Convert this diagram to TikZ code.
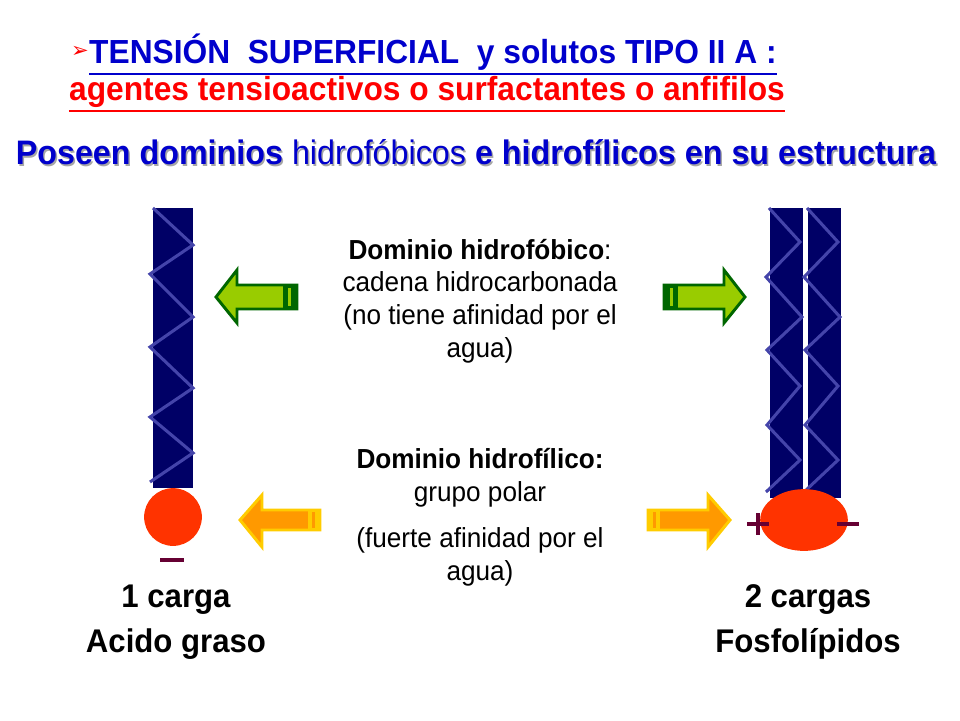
\documentclass[tikz,border=0pt]{standalone}
\usepackage{fontspec}
\usetikzlibrary{shapes.geometric}
\setmainfont{Liberation Sans}
\newfontfamily\nar[FakeStretch=0.95]{Liberation Sans}
\newfontfamily\djfont{DejaVu Sans}
\definecolor{chain}{HTML}{000066}
\definecolor{zig}{HTML}{4444AA}
\definecolor{head}{HTML}{FF3300}
\definecolor{mar}{HTML}{660033}
\definecolor{tb}{HTML}{0000CC}
\definecolor{lg}{HTML}{99CC00}
\definecolor{dg}{HTML}{006600}
\definecolor{og}{HTML}{FF9900}
\definecolor{yb}{HTML}{FFCC00}
\begin{document}
\begin{tikzpicture}[x=0.03cm,y=-0.03cm,
  zz/.style={zig,line width=2.6pt},
  chainbox/.style={fill=chain},
  body/.style={font=\fontsize{23.5}{28}\selectfont\nar,align=center},
  lbl/.style={font=\fontsize{28}{32}\selectfont\nar\bfseries},
  sgn/.style={mar,line width=3.5pt}]
\useasboundingbox (0,0) rectangle (960,720);
\fill[white] (0,0) rectangle (960,720);
% titles
\node[anchor=west,inner sep=0,text=tb,font=\fontsize{28.5}{30}\selectfont\nar\bfseries] (t1) at (89,52) {TENSIÓN\ \ SUPERFICIAL\ \ y solutos TIPO II A :};
\node[anchor=east,inner sep=0,text=red,font=\djfont\fontsize{18}{18}\selectfont] (arr) at (t1.west) {➢};
\draw[tb,line width=1.8pt] ([yshift=-3pt]t1.south west) -- ([yshift=-3pt]t1.south east);
\node[inner sep=0,text=red,font=\fontsize{28.5}{30}\selectfont\nar\bfseries] (t2) at (427,92) {agentes tensioactivos o surfactantes o anfifilos};
\draw[red,line width=1.8pt] ([yshift=-3pt]t2.south west) -- ([yshift=-3pt]t2.south east);
\node[inner sep=0,text=gray!70,font=\fontsize{29}{30}\selectfont\nar] at (477.5,154.5) {\textbf{Poseen dominios} hidrofóbicos \textbf{e hidrofílicos en su estructura}};
\node[inner sep=0,text=tb,font=\fontsize{29}{30}\selectfont\nar] (t3) at (476,152) {\textbf{Poseen dominios} hidrofóbicos \textbf{e hidrofílicos en su estructura}};
% left molecule
\fill[chainbox] (153,208) rectangle (193,488);
\draw[zz] (153,208)--(193,245)--(150,274)--(193,317)--(150,347)--(193,388)--(150,417)--(193,453)--(150,482);
\node[circle,fill=head,minimum size=58*0.85pt,inner sep=0] (h1) at (173,517) {};
\coordinate (m1) at (172,560);
\draw[sgn] ([xshift=-10pt]m1) -- ([xshift=10pt]m1);
% right molecule
\fill[chainbox] (770,208) rectangle (803,498);
\fill[chainbox] (808,208) rectangle (841,498);
\foreach \dx in {0,38}{
\draw[zz,xshift=\dx*0.03cm] (769,208)--(800,242)--(766,277)--(802,317)--(767,350)--(800,386)--(767,425)--(800,460)--(766,492);}
\node[ellipse,fill=head,minimum width=88*0.85pt,minimum height=62*0.85pt,inner sep=0] (h2) at (804,520) {};
\coordinate (p2) at (758,524);
\coordinate (m2) at (848,524);
\draw[sgn] ([xshift=-9pt]p2) -- ([xshift=9pt]p2) ([yshift=-9pt]p2) -- ([yshift=9pt]p2);
\draw[sgn] ([xshift=-9pt]m2) -- ([xshift=9pt]m2);
% arrows
\draw[dg,fill=lg,line width=2.5pt,line join=miter] (216,297)--(237,270)--(237,285)--(297,285)--(297,309)--(237,309)--(237,323)--cycle;
\fill[dg] (283,285) rectangle (297,309);
\fill[lg] (288,288) rectangle (291,306);
\draw[dg,fill=lg,line width=2.5pt,line join=miter] (745,297)--(724,270)--(724,285)--(664,285)--(664,309)--(724,309)--(724,323)--cycle;
\fill[dg] (664,285) rectangle (678,309);
\fill[lg] (670,288) rectangle (673,306);
\draw[yb,fill=og,line width=2.5pt,line join=miter] (240,520)--(262,495)--(262,510)--(320,510)--(320,530)--(262,530)--(262,547)--cycle;
\fill[yb] (308,510) rectangle (320,530);
\fill[og] (312,512) rectangle (315,528);
\draw[yb,fill=og,line width=2.5pt,line join=miter] (730,520)--(708,495)--(708,510)--(648,510)--(648,530)--(708,530)--(708,547)--cycle;
\fill[yb] (648,510) rectangle (660,530);
\fill[og] (653,512) rectangle (656,528);
% texts
\node[body] (d1) at (480,301) {\textbf{Dominio hidrofóbico}:\\cadena hidrocarbonada\\(no tiene afinidad por el\\agua)};
\node[body] (d2) at (480,478) {\textbf{Dominio hidrofílico:}\\grupo polar};
\node[body] (d3) at (480,557) {(fuerte afinidad por el\\agua)};
\node[lbl] (c1) at (176,600) {1 carga};
\node[lbl] (n1) at (176,644) {Acido graso};
\node[lbl] (c2) at (808,600) {2 cargas};
\node[lbl] (n2) at (808,644) {Fosfolípidos};
\end{tikzpicture}
\end{document}
